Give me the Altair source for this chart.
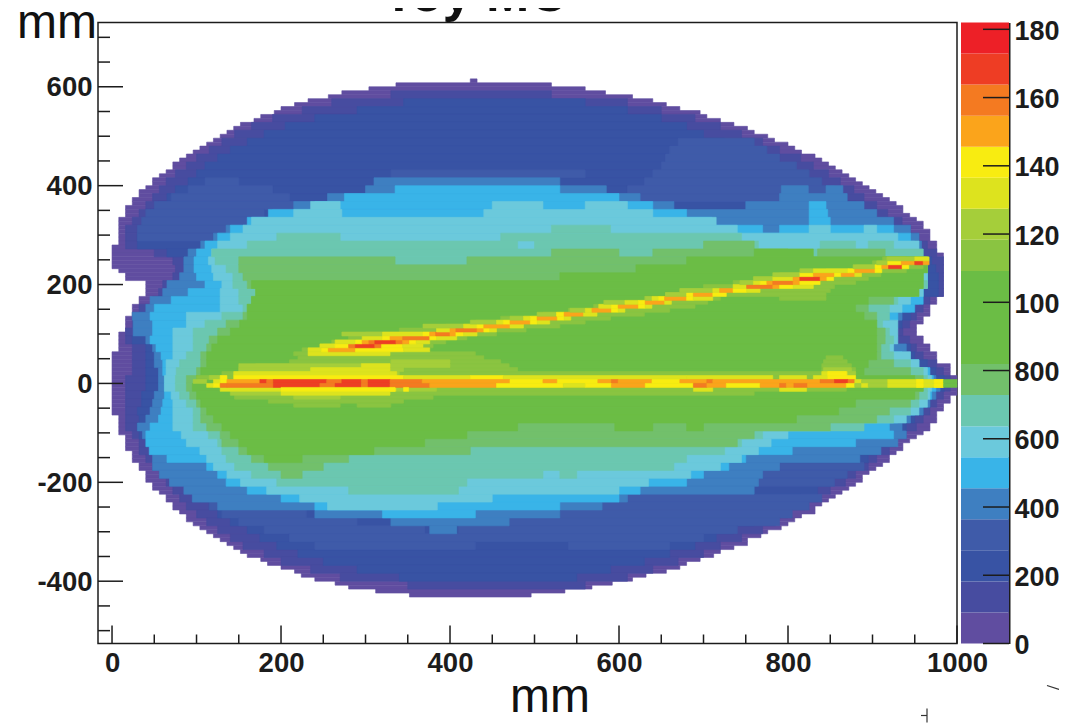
import altair as alt
import pandas as pd

# level colours (20 contour levels of the palette, bottom to top)
PALETTE = ["#604DA0","#474CA0","#3853A4","#3F5BA9","#3E7FC1","#39B4E8","#6BC9DC","#6BC7B0","#72C06B","#6BBD45",
           "#6BBD45","#6BBD45","#8AC441","#A5CE3A","#DDE31E","#F8EC11","#FBA41B","#F47A21","#EE3D24","#ED2027"]
LEVEL_STEP = 910

# rows: (top y, left x, right x); row height 8 mm
L0 = [(616,424,432),(608,336,520),(600,304,560),(592,272,584),(584,256,616),(576,232,640),(568,216,656),(560,200,672),
(552,192,696),(544,176,704),(536,168,720),(528,152,736),(520,144,752),(512,136,760),(504,128,776),(496,120,784),
(488,112,800),(480,104,808),(472,96,816),(464,88,832),(456,80,840),(448,72,848),(440,72,856),(432,64,864),(424,56,872),
(416,48,880),(408,48,888),(400,40,896),(392,32,904),(384,32,912),(376,24,920),(368,24,928),(360,16,936),(352,16,936),
(344,16,944),(336,8,952),(328,8,960),(320,8,960),(312,8,968),(304,8,968),(296,8,968),(288,8,976),(280,0,976),(272,0,976),
(264,0,984),(256,0,984),(248,0,984),(240,0,984),(232,8,984),(224,16,984),(216,16,984),(208,40,984),(200,40,984),(192,40,984),
(184,40,984),(176,32,976),(168,32,976),(160,24,968),(152,24,968),(144,24,968),(136,16,960),(128,16,960),(120,16,952),(112,16,952),
(104,8,952),(96,8,960),(88,8,960),(80,8,968),(72,8,968),(64,0,976),(56,0,976),(48,0,976),(40,0,992),(32,0,992),(24,0,992),
(16,0,1000),(8,0,1000),(0,0,1000),(-8,0,1000),(-16,0,1000),(-24,0,992),(-32,0,992),(-40,0,984),(-48,0,984),(-56,0,976),
(-64,8,976),(-72,8,976),(-80,8,968),(-88,8,968),(-96,8,960),(-104,16,952),(-112,16,944),(-120,16,936),(-128,16,936),(-136,24,928),
(-144,24,920),(-152,24,920),(-160,32,912),(-168,32,904),(-176,40,896),(-184,40,888),(-192,40,888),(-200,48,880),(-208,48,872),
(-216,56,864),(-224,64,856),(-232,64,848),(-240,72,840),(-248,72,832),(-256,80,832),(-264,88,816),(-272,88,808),(-280,96,800),
(-288,104,792),(-296,112,776),(-304,120,768),(-312,128,752),(-320,136,752),(-328,144,736),(-336,152,720),(-344,160,712),
(-352,176,696),(-360,184,680),(-368,200,672),(-376,216,656),(-384,224,632),(-392,240,616),(-400,264,592),(-408,280,568),
(-416,312,536),(-424,352,496)]

# rows: (top y, left x, right x); row height 16 mm
L1 = [(592,330,520),(576,260,610),(560,225,650),(544,190,690),(528,165,720),(512,145,745),(496,130,770),(480,115,790),(464,100,815),
(448,88,830),(432,75,848),(416,64,862),(400,56,878),(384,48,890),(368,40,905),(352,32,918),(336,24,935),(320,16,945),(304,16,955),
(288,16,965),(272,50,976),(256,72,984),(240,75,984),(224,72,984),(208,60,984),(192,55,984),(176,48,968),(160,32,960),(144,24,952),
(128,24,944),(112,16,936),(96,16,944),(80,24,952),(64,24,960),(48,24,976),(32,24,984),(16,16,992),(0,16,992),(-16,16,984),(-32,16,976),
(-48,16,968),(-64,16,960),(-80,16,952),(-96,24,940),(-112,32,928),(-128,32,920),(-144,40,905),(-160,48,895),(-176,56,880),(-192,64,868),
(-208,72,850),(-224,80,835),(-240,88,820),(-256,100,800),(-272,112,785),(-288,125,770),(-304,140,745),(-320,155,720),(-336,180,700),
(-352,200,670),(-368,235,640),(-384,270,610),(-400,350,560)]
L2 = [(576,345,560),(560,290,610),(544,240,650),(528,205,680),(512,180,700),(496,160,725),(480,140,745),(464,125,770),(448,110,790),
(432,100,810),(416,90,830),(400,75,845),(384,65,865),(368,55,880),(352,45,890),(336,40,905),(320,35,920),(304,30,935),(288,30,950),
(272,65,955),(256,85,970),(240,90,975),(224,85,978),(208,75,978),(192,65,978),(176,55,960),(160,48,950),(144,32,945),(128,32,935),
(112,32,925),(96,24,930),(80,40,945),(64,40,950),(48,40,965),(32,40,975),(16,40,985),(0,40,985),(-16,35,975),(-32,35,968),(-48,30,960),
(-64,32,950),(-80,30,940),(-96,32,930),(-112,40,918),(-128,48,905),(-144,56,895),(-160,64,880),(-176,75,865),(-192,85,850),(-208,95,835),
(-224,105,815),(-240,115,800),(-256,125,780),(-272,140,760),(-288,160,735),(-304,175,715),(-320,195,690),(-336,220,660),(-352,250,630),
(-368,290,590),(-384,340,550)]
L3 = [(496,670,760),(480,660,775),(464,655,790),(448,650,810),(432,330,560),(432,640,825),(416,110,150),(416,630,840),(400,90,190),(400,610,855),
(384,70,210),(384,560,870),(368,50,240),(352,40,180),(336,35,170),(320,30,140),(304,30,120),
(-160,770,890),(-176,765,870),(-192,760,855),(-224,95,125),(-224,600,840),(-240,115,180),(-240,580,825),(-256,130,230),(-256,530,805),
(-272,150,290),(-272,470,790),(-288,180,370),(-288,410,740),(-304,210,700),(-320,240,430),(-320,540,660)]
L4 = [(416,310,530),(400,300,585),(400,792,824),(400,845,865),(384,255,625),(384,790,870),(368,215,665),(368,750,890),(352,190,905),(336,165,925),
(320,135,945),(304,120,955),(288,105,958),(272,90,960),(256,85,965),(240,85,965),(224,80,965),(208,65,960),(192,60,960),(176,45,955),
(160,40,945),(144,24,935),(128,25,925),(112,25,920),(96,40,925),(80,48,940),(64,50,945),(48,50,955),(32,55,965),(16,55,975),(0,55,980),
(-16,50,975),(-32,48,968),(-48,45,960),(-64,40,945),(-80,30,935),(-96,36,940),(-112,44,930),(-128,50,910),(-144,48,885),(-160,48,790),
(-176,56,770),(-192,68,765),(-208,85,760),(-224,95,610),(-240,125,580),(-256,240,530),(-272,330,470),(-288,376,408)]
L5 = [(400,335,530),(384,275,600),(368,240,640),(368,825,845),(352,185,680),(352,825,847),(336,160,710),(336,825,850),(320,140,770),(320,790,925),
(304,125,945),(288,110,950),(272,100,955),(256,97,958),(240,97,960),(224,100,965),(208,110,960),(192,90,960),(176,70,960),(160,50,950),
(144,45,930),(128,48,905),(112,48,905),(96,45,905),(80,52,915),(64,58,935),(48,60,955),(32,60,968),(16,62,972),(0,62,975),(-16,62,970),
(-32,60,960),(-48,58,950),(-64,55,930),(-80,45,920),(-96,40,925),(-112,40,880),(-128,44,805),(-144,65,750),(-160,112,730),(-176,125,700),
(-192,135,680),(-208,160,625),(-224,200,600),(-240,240,530),(-256,320,430)]
L6 = [(368,235,270),(368,450,510),(368,560,610),(352,215,272),(352,440,640),(336,165,715),(320,155,740),(320,825,850),(320,890,905),(304,140,930),
(288,125,955),(272,118,955),(256,114,950),(240,118,962),(224,120,965),(208,130,965),(192,128,960),(176,128,945),(160,128,935),(144,88,915),
(128,88,930),(112,72,930),(96,72,930),(80,72,925),(64,72,945),(48,64,955),(32,64,965),(16,62,970),(0,62,970),(-16,70,968),(-32,72,965),
(-48,72,955),(-64,72,940),(-80,72,850),(-96,82,800),(-112,88,780),(-128,104,765),(-144,112,745),(-160,120,720),(-176,136,685),(-192,152,635),
(-208,183,600),(-224,222,450),(-240,255,385)]
L7 = [(320,520,590),(304,195,270),(304,460,745),(288,160,480),(288,500,765),(288,838,880),(288,895,925),(272,118,960),(256,122,958),(240,135,965),
(224,143,960),(208,143,965),(192,150,955),(176,150,930),(160,155,920),(144,130,920),(128,110,912),(112,96,920),(96,96,925),(80,96,920),
(64,88,925),(48,80,945),(32,76,960),(16,75,965),(0,75,965),(-16,80,965),(-32,88,955),(-48,96,945),(-64,96,925),(-80,96,890),(-96,114,770),
(-112,125,745),(-128,130,725),(-144,135,680),(-160,145,665),(-176,165,510),(-176,530,550),(-192,195,420),(-208,280,410)]
L8 = [(288,700,760),(272,520,600),(272,640,800),(272,835,915),(256,150,335),(256,420,965),(240,150,965),(224,155,960),(208,160,960),(192,170,950),
(176,165,925),(160,160,895),(144,155,905),(128,135,905),(112,125,915),(96,115,915),(80,112,910),(64,105,910),(48,105,925),(32,100,945),
(16,88,960),(0,88,960),(-16,92,955),(-32,100,945),(-48,105,920),(-64,105,905),(-80,112,850),(-96,128,760),(-112,130,740),(-128,150,424),
(-144,165,280),(-160,185,250),(-176,200,225)]
L9 = [(272,760,830),(256,680,965),(240,620,965),(224,530,960),(208,165,960),(192,170,955),(176,165,895),(160,160,880),(144,160,890),(128,151,905),
(112,140,905),(96,125,905),(80,118,905),(64,112,905),(48,112,895),(32,105,890),(16,100,950),(0,95,960),(-16,100,950),(-32,105,880),(-48,112,860),
(-64,120,810),(-80,130,480),(-80,595,640),(-80,680,700),(-96,140,420),(-112,150,370),(-128,160,310),(-144,180,225)]

# streak cells: (top y, left x, right x, level); row height 8 mm
HALO = [
(64,215,430,12),(56,220,440,12),(48,210,460,12),(40,170,470,12),(32,150,480,12),(24,130,880,12),(16,100,880,12),(32,840,880,12),(40,840,875,12),(48,842,870,12),(56,845,865,12),
(-8,384,869,12),(-16,160,760,12),(-24,145,380,12),(-32,185,345,12),(-40,215,270,12),(-40,290,330,12),
(256,912,940,12),(248,900,960,12),(240,880,960,12),(232,845,940,12),(224,790,910,12),(216,760,895,12),(208,735,880,12),(200,700,855,12),(192,672,850,12),
(184,655,845,12),(176,630,720,12),(176,790,845,12),(168,610,705,12),(160,570,690,12),(152,540,660,12),(144,510,630,12),(136,460,590,12),(128,430,560,12),
(120,395,530,12),(112,340,490,12),(104,300,455,12),(96,280,420,12),(88,260,395,12),(80,250,380,12),(72,225,375,12),
(48,330,400,13),(40,150,400,13),(32,150,345,13),(24,150,340,13),(24,840,880,13),(32,842,875,13),(-8,140,384,13),(-16,140,200,13),(-24,215,270,13),(16,115,135,13)]
CENTRAL = [
(32,235,329,14),(40,295,329,14),(24,144,329,14),(24,329,337,14),(24,840,870,14),(-8,128,200,14),(-16,200,329,14),(-8,329,336,14),(-8,688,711,14),(-8,790,822,14),
(16,128,136,15),(16,144,345,15),(16,345,424,14),(16,424,463,15),(16,463,680,14),(16,680,782,14),(16,790,822,14),(16,830,847,14),(16,847,880,15),(24,847,869,15),
(8,96,112,13),(8,120,128,14),(8,128,136,15),(8,136,175,16),(8,175,183,18),(8,183,191,17),(8,191,254,18),(8,254,272,17),(8,272,295,18),(8,295,303,17),(8,303,329,18),
(8,329,367,17),(8,367,471,16),(8,471,510,15),(8,510,527,16),(8,527,575,15),(8,575,591,16),(8,591,599,17),(8,599,639,16),(8,639,672,15),(8,672,704,16),(8,704,711,17),
(8,711,838,16),(8,838,855,17),(8,855,871,18),(8,871,879,17),(8,879,887,14),(8,887,918,13),(8,918,984,14),(8,952,960,15),(8,973,984,15),(8,984,1000,9),
(0,112,120,14),(0,120,128,15),(0,128,136,17),(0,136,191,17),(0,191,246,18),(0,246,264,17),(0,264,295,18),(0,295,303,17),(0,303,329,18),
(0,329,376,17),(0,376,455,16),(0,455,534,15),(0,534,560,14),(0,560,591,15),(0,591,631,16),(0,631,688,15),(0,688,704,17),(0,704,727,16),(0,727,767,15),(0,767,790,16),
(0,790,798,17),(0,798,807,16),(0,807,823,17),(0,823,869,16),(0,869,879,15),(0,879,887,13),(0,887,895,14),(0,895,918,13),(0,918,984,14),(0,952,960,15),(0,973,984,15),(0,984,1000,9),
(-8,200,329,15),(-8,329,335,15),(-8,345,351,15)]
UPPER = [
(64,232,329,14),(72,232,248,14),(72,248,256,15),(72,256,288,16),(72,288,345,15),(72,345,376,14),
(80,246,264,14),(80,264,280,15),(80,280,288,17),(80,288,311,18),(80,311,319,17),(80,319,344,15),(80,344,368,14),
(88,264,288,14),(88,288,296,15),(88,296,304,16),(88,304,311,17),(88,311,336,18),(88,336,344,17),(88,344,352,16),(88,352,360,15),(88,360,376,14),
(96,296,320,14),(96,320,329,15),(96,329,344,16),(96,344,376,17),(96,376,384,15),(96,384,408,14),(104,272,320,13),(104,320,368,14),(104,368,376,15),(104,376,383,16),(104,383,400,17),(104,400,407,16),(104,407,416,15),(104,416,432,14),
(112,384,400,14),(112,400,407,16),(112,407,432,17),(112,432,440,16),(112,440,447,15),(112,447,455,14),(120,368,416,13),(120,416,432,14),(120,432,440,15),(120,440,471,16),(120,471,487,14),
(128,424,455,13),(128,455,463,14),(128,463,471,15),(128,471,495,16),(128,495,503,15),(128,503,518,14),(136,471,487,13),(136,487,495,14),(136,495,503,15),(136,503,527,16),(136,527,535,15),(136,535,543,14),
(144,503,526,13),(144,526,535,15),(144,535,558,16),(144,558,574,14),(152,542,560,13),(152,560,568,14),(152,568,591,16),(152,591,599,15),(152,599,607,14),
(160,576,591,14),(160,591,599,15),(160,599,623,16),(160,623,631,15),(160,631,639,14),(168,582,607,13),(168,607,623,14),(168,623,631,15),(168,631,654,16),(168,654,662,14),
(176,631,639,13),(176,639,647,14),(176,647,654,15),(176,654,680,16),(176,680,688,15),(176,688,711,14),(184,655,680,13),(184,680,688,15),(184,688,711,16),(184,711,727,15),
(192,672,711,13),(192,711,719,14),(192,719,735,16),(192,735,751,15),(192,751,767,14),(200,735,751,14),(200,751,782,17),(200,782,790,16),(200,790,806,15),(200,806,830,14),
(208,743,759,13),(208,759,767,14),(208,767,775,15),(208,775,782,16),(208,782,806,17),(208,806,814,16),(208,814,838,15),(216,759,782,13),(216,782,806,14),(216,806,814,16),(216,814,838,18),(216,838,846,16),(216,846,854,15),
(224,782,814,13),(224,814,830,15),(224,830,855,16),(224,855,863,15),(224,863,879,16),(224,879,887,14),(232,814,830,13),(232,830,871,14),(232,871,879,15),(232,879,903,16),(232,903,911,15),
(240,877,903,13),(240,903,911,15),(240,911,919,16),(240,919,935,18),(240,935,943,15),(248,905,918,13),(248,918,934,15),(248,934,950,16),(248,950,960,18),(248,960,967,16),
(256,917,950,13),(256,950,967,14)]

LEVEL_ROWS = [(1,L1),(2,L2),(3,L3),(4,L4),(5,L5),(6,L6),(7,L7),(8,L8),(9,L9)]

cells = [dict(x0=l, x1=r, y0=t-8, y1=t, level=0) for t,l,r in L0]
for lev, rows in LEVEL_ROWS:
    cells += [dict(x0=l, x1=r, y0=t-16, y1=t, level=lev) for t,l,r in rows]
for rows in (HALO, CENTRAL, UPPER):
    cells += [dict(x0=l, x1=r, y0=t-8, y1=t, level=v) for t,l,r,v in rows]
df = pd.DataFrame(cells)

X_DOMAIN = [-16.6, 1000]
Y_DOMAIN = [-526, 730]
FONT = "Liberation Sans"
INK = "#1c1c1c"
x_major = [0,200,400,600,800,1000]
y_major = [-400,-200,0,200,400,600]
x_minor = [v for v in range(0,1001,50) if v not in x_major]
y_minor = [v for v in range(-500,701,50) if v not in y_major]
z_ticks = [0,2000,4000,6000,8000,10000,12000,14000,16000,18000]

domain_lv = list(range(20))
xs = alt.Scale(domain=X_DOMAIN, nice=False, zero=False)
ys = alt.Scale(domain=Y_DOMAIN, nice=False, zero=False)
cs = alt.Scale(domain=domain_lv, range=PALETTE)

heat = alt.Chart(df).mark_rect(strokeWidth=0.6).encode(
    x=alt.X("x0:Q", scale=xs, title=None,
            axis=alt.Axis(values=x_major, ticks=False, domain=False, grid=False, labelFont=FONT, labelFontWeight="bold",
                          labelFontSize=27.5, labelColor=INK, labelPadding=6, labelExpr="''+datum.value", labelFlush=False, labelOverlap=False)),
    x2="x1:Q",
    y=alt.Y("y0:Q", scale=ys, title=None,
            axis=alt.Axis(values=y_major, ticks=False, domain=False, grid=False, labelFont=FONT, labelFontWeight="bold",
                          labelFontSize=27.5, labelColor=INK, labelPadding=6, labelExpr="''+datum.value", labelFlush=False, labelOverlap=False, labelOffset=1)),
    y2="y1:Q",
    color=alt.Color("level:O", scale=cs, legend=None),
    stroke=alt.Color("level:O", scale=cs, legend=None),
)

def ticks_y(vals, length):
    return alt.Chart(pd.DataFrame({"v": vals})).mark_rule(color=INK, strokeWidth=1.5).encode(
        y=alt.Y("v:Q", scale=ys), x=alt.value(0), x2=alt.value(length))
def ticks_x(vals, length):
    return alt.Chart(pd.DataFrame({"v": vals})).mark_rule(color=INK, strokeWidth=1.5).encode(
        x=alt.X("v:Q", scale=xs), y=alt.value(621), y2=alt.value(621-length))

def label(text, px, py, size, weight="normal", align="center"):
    return alt.Chart(pd.DataFrame({"t":[text]})).mark_text(font=FONT, fontSize=size, fontWeight=weight, color="#111111",
        align=align, baseline="alphabetic").encode(text="t:N", x=alt.value(px), y=alt.value(py))

def stroke(px0, py0, px1, py1):
    return alt.Chart(pd.DataFrame({"k":[0]})).mark_rule(color="#333333", strokeWidth=1.2).encode(
        x=alt.value(px0), x2=alt.value(px1), y=alt.value(py0), y2=alt.value(py1))

main = alt.layer(
    heat, ticks_y(y_major,25), ticks_y(y_minor,12), ticks_x(x_major,18), ticks_x(x_minor,9),
    label("mm", 452, 689, 48),
    label("mm", -1, 15, 48, align="right"),
    label("Toy MC", 377, -12, 52, "bold"),
    stroke(829, 686, 829, 700), stroke(823, 693, 829, 693),
).properties(width=859, height=621, view=alt.ViewConfig(stroke=INK, strokeWidth=1.5))

bar = pd.DataFrame({"lo":[i*LEVEL_STEP for i in range(20)], "hi":[(i+1)*LEVEL_STEP for i in range(20)], "level":domain_lv})
zs = alt.Scale(domain=[0,18200], nice=False, zero=False)
cbar_rects = alt.Chart(bar).mark_rect().encode(
    y=alt.Y("lo:Q", scale=zs, title=None,
            axis=alt.Axis(orient="right", values=z_ticks, ticks=False, grid=False, domain=True, domainColor=INK, domainWidth=2,
                          labelFont=FONT, labelFontWeight="bold", labelFontSize=27, labelColor=INK, labelPadding=5,
                          labelExpr="''+datum.value", labelFlush=False, labelOverlap=False, labelOffset=2)),
    y2="hi:Q", x=alt.value(0), x2=alt.value(48),
    color=alt.Color("level:O", scale=cs, legend=None))
cbar_ticks = alt.Chart(pd.DataFrame({"v":z_ticks})).mark_rule(color=INK, strokeWidth=1.5).encode(
    y=alt.Y("v:Q", scale=zs), x=alt.value(22), x2=alt.value(48))
cbar = alt.layer(cbar_rects, cbar_ticks, stroke(86, 663, 98, 667)).properties(width=48, height=621, view=alt.ViewConfig(stroke=None))

chart = alt.hconcat(main, cbar, spacing=4, bounds="flush").resolve_scale(color="shared", x="independent", y="independent").properties(
    autosize=alt.AutoSizeParams(type="none"),
    padding={"left":90,"top":14.5,"right":961,"bottom":692},
).configure_view(strokeWidth=1.5)
chart.save("out.html", embed_options={"renderer":"svg","actions":False})
